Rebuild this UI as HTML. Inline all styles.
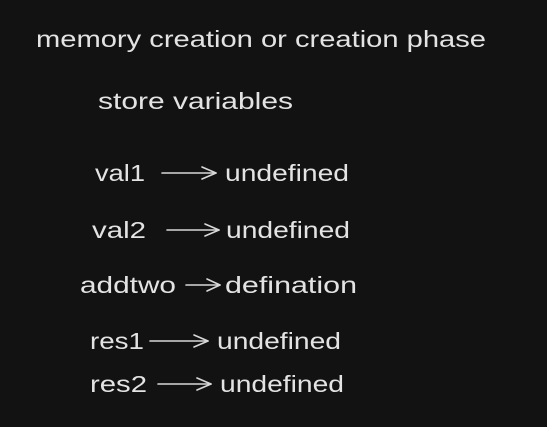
<!DOCTYPE html>
<html><head><style>
html,body{margin:0;padding:0;background:#121212;}
svg{display:block;}
text{font-family:"Liberation Sans",sans-serif;font-size:23px;fill:#e3e3e3;}
line,polyline{stroke:#d8d8d8;stroke-width:1.6;fill:none;stroke-linecap:round;stroke-linejoin:round;}
</style></head><body>
<svg width="547" height="427" viewBox="0 0 547 427">
<rect width="547" height="427" fill="#121212"/>
<text x="36" y="47" textLength="450" lengthAdjust="spacingAndGlyphs">memory creation or creation phase</text>
<text x="98" y="109" textLength="195" lengthAdjust="spacingAndGlyphs">store variables</text>

<text x="95" y="181" textLength="50" lengthAdjust="spacingAndGlyphs">val1</text>
<line x1="162" y1="173" x2="216" y2="173"/><polyline points="202,167 216,173 202,179"/>
<text x="225" y="181" textLength="124" lengthAdjust="spacingAndGlyphs">undefined</text>

<text x="92" y="238" textLength="54" lengthAdjust="spacingAndGlyphs">val2</text>
<line x1="167" y1="230" x2="219" y2="230"/><polyline points="205,224 219,230 205,236"/>
<text x="226" y="238" textLength="124" lengthAdjust="spacingAndGlyphs">undefined</text>

<text x="80" y="293" textLength="96" lengthAdjust="spacingAndGlyphs">addtwo</text>
<line x1="186" y1="285" x2="220" y2="285"/><polyline points="207,279 220,285 207,291"/>
<text x="225" y="293" textLength="132" lengthAdjust="spacingAndGlyphs">defination</text>

<text x="90" y="349" textLength="54" lengthAdjust="spacingAndGlyphs">res1</text>
<line x1="150" y1="341" x2="208" y2="341"/><polyline points="194,335 208,341 194,347"/>
<text x="217" y="349" textLength="124" lengthAdjust="spacingAndGlyphs">undefined</text>

<text x="90" y="392" textLength="57" lengthAdjust="spacingAndGlyphs">res2</text>
<line x1="158" y1="384" x2="211" y2="384"/><polyline points="197,378 211,384 197,390"/>
<text x="220" y="392" textLength="124" lengthAdjust="spacingAndGlyphs">undefined</text>
</svg>
</body></html>
